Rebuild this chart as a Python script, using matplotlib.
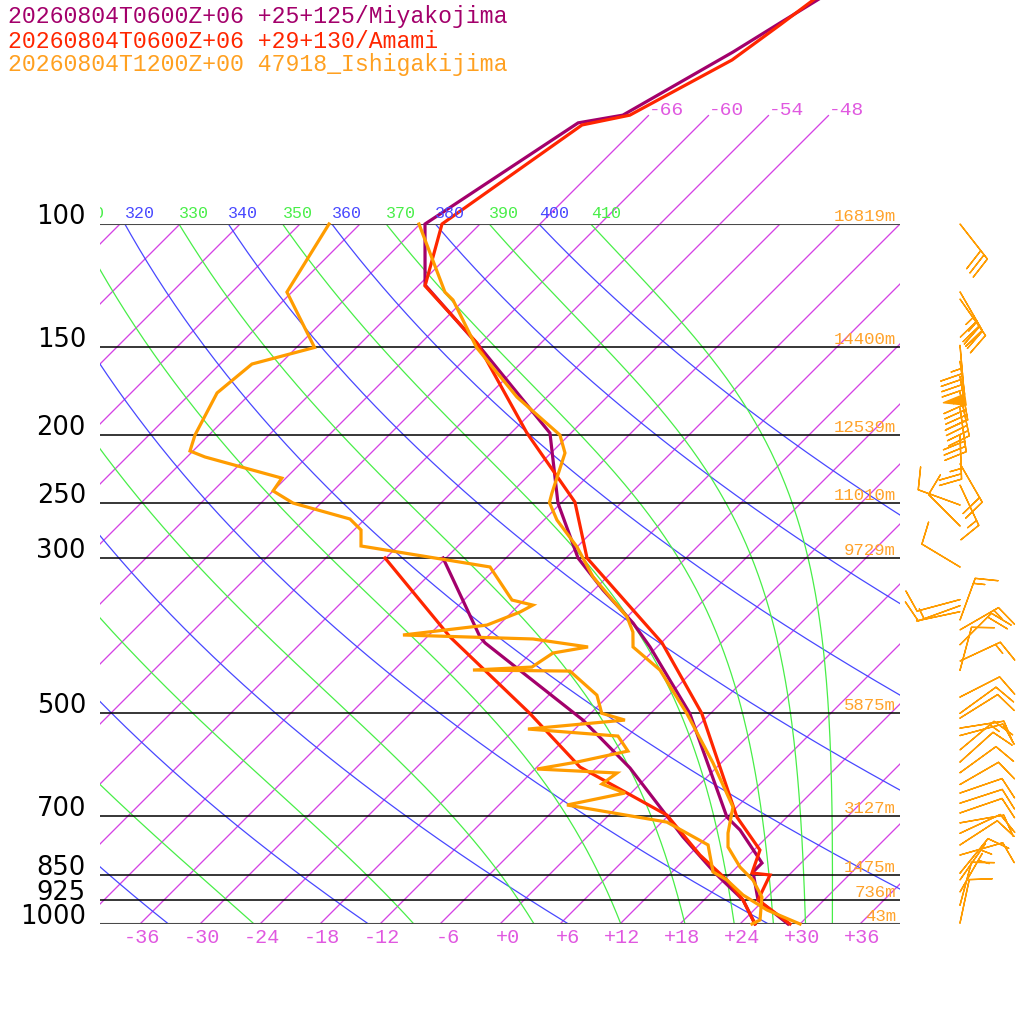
import numpy as np
import matplotlib
matplotlib.use('Agg')
import matplotlib.pyplot as plt
import matplotlib.transforms as mtransforms

# soundings: pressure (hPa), temperature / dewpoint (C)
miya_p = [44.8, 51.6, 56.8, 69.9, 71.7, 100, 122.2, 149.9, 198.9, 250.4, 300,
          333.3, 371.5, 402.0, 500, 703.5, 734.0, 818.2, 842.7, 924.0, 1000]
miya_t = [-59.4, -62.1, -63.9, -68.6, -72.3, -77.5, -71.4, -59.7, -44.1, -36.3, -28.8,
          -23.1, -16.8, -12.7, -2.1, 12.0, 14.6, 20.1, 20.1, 23.4, 28.8]
miya_td_p = [300, 389.0, 396.7, 511.3, 598.6, 680.6, 751.1, 845.6, 924.0, 1000]
miya_td = [-42.3, -30.7, -29.6, -12.1, -2.6, 4.3, 9.6, 16.4, 21.9, 25.5]

amami_p = [44.8, 51.9, 58.3, 69.9, 72.2, 100, 122.6, 147.9, 198.9, 249.6, 300,
           396.7, 500, 703.5, 784.1, 845.6, 851.1, 924.0, 1000]
amami_t = [-60.4, -61.9, -63.2, -67.9, -71.7, -75.8, -71.3, -60.4, -46.4, -34.7, -27.9,
           -11.9, -0.9, 13.0, 18.6, 20.1, 22.1, 23.4, 29.0]
amami_td_p = [300, 389.0, 500, 596.7, 698.9, 797.0, 865.4, 924.0, 1000]
amami_td = [-48.1, -33.7, -18.1, -7.7, 5.8, 13.1, 18.3, 21.9, 25.5]

ishi_p = [100, 125.1, 128.4, 150.1, 176.7, 200.2, 212.4, 242.3, 250, 264.8, 289.3,
          319.3, 364.2, 382.8, 402.0, 433.7, 500, 588.8, 680.6, 741.3, 776.2, 829.1,
          865.4, 915.3, 986.9, 1000]
ishi_t = [-78.1, -68.7, -67.1, -60.0, -51.0, -42.9, -40.6, -37.9, -37.2, -34.7, -30.0,
          -25.4, -18.0, -15.9, -14.4, -9.4, -2.4, 5.2, 11.6, 13.7, 15.1, 18.3,
          20.9, 23.5, 25.6, 25.2]
ishi_td_p = [100, 125.1, 150.1, 158.5, 174.3, 200.2, 211.0, 215.2, 230.7, 240.6, 250.4,
             263.9, 273.6, 288.4, 309.0, 344.5, 350.3, 358.4, 374.1, 386.5, 391.6, 402.0,
             410.1, 429.5, 433.7, 435.2, 471.0, 500, 511.3, 526.6, 538.9, 566.2, 587.0,
             600.6, 608.5, 631.0, 650.0, 676.1, 715.2, 771.0, 842.7, 865.4, 909.0,
             955.0, 1000]
ishi_td = [-87.1, -84.5, -76.2, -80.8, -81.4, -79.4, -78.3, -76.2, -66.4, -66.0, -62.8,
           -55.5, -53.3, -51.7, -36.7, -31.2, -28.6, -29.2, -31.2, -38.6, -25.2, -18.9,
           -21.8, -22.5, -28.1, -18.3, -13.2, -10.9, -7.9, -16.7, -7.0, -4.5, -8.5,
           -11.8, -3.4, -3.8, -0.6, -5.2, 6.5, 12.9, 16.1, 18.3, 21.4,
           25.3, 30.0]

# Ishigakijima winds: pressure, direction (deg), speed (kt)
wind_p = [100, 125, 128, 149, 157, 165, 174, 183, 200, 220, 236, 252, 270, 309,
          344, 351, 358, 368, 380, 399, 421, 434, 474, 500, 508, 525, 538, 564,
          587, 608, 632, 650, 672, 694, 717, 742, 771, 797, 846, 865, 900, 940, 997]
wind_dir = [142, 150, 145, 175, 172, 170, 168, 172, 178, 150, 155, 290, 315, 301,
            255, 250, 258, 20, 60, 45, 65, 15, 63, 54, 58, 81, 75, 50,
            48, 54, 60, 71, 72, 71, 80, 65, 57, 74, 39, 35, 30, 15, 12]
wind_spd = [30, 35, 35, 45, 50, 45, 40, 30, 25, 20, 15, 10, 10, 10,
            10, 10, 5, 15, 15, 20, 15, 10, 10, 10, 10, 10, 10, 15,
            10, 10, 10, 10, 10, 10, 10, 10, 10, 10, 10, 5, 5, 10, 10]

plevels = [100, 150, 200, 250, 300, 500, 700, 850, 925, 1000]
heights = ['16819m', '14400m', '12539m', '11010m', '9729m', '5875m', '3127m',
           '1475m', '736m', '43m']
iso_ticks = list(range(-36, 37, 6))
iso_top = [-66, -60, -54, -48]
dry_theta = list(range(200, 401, 20))
moist_thetae = list(range(230, 411, 20))

titles = ['20260804T0600Z+06 +25+125/Miyakojima',
          '20260804T0600Z+06 +29+130/Amami',
          '20260804T1200Z+00 47918_Ishigakijima']

PURPLE = '#a3006b'
RED = '#ff2600'
ORANGE = '#ff9c00'
ISO = '#d444e4'
ISO_TXT = '#e058e0'
BLUE = '#4848ff'
GREEN = '#48ee48'
MONO = 'Liberation Mono'


def theta_e(tk, p):
    # Bolton (1980), saturated air
    tc = tk - 273.15
    e = 6.112 * np.exp(17.67 * tc / (tc + 243.5))
    r = 622.0 * e / np.maximum(p - e, 1e-3)
    return tk * (1000.0 / p) ** (0.2854 * (1 - 0.00028 * r)) * \
        np.exp((3.376 / tk - 0.00254) * r * (1 + 0.00081 * r))


def moist_adiabat(the, p):
    lo = np.full_like(p, 150.0)
    hi = np.full_like(p, 320.0)
    with np.errstate(over='ignore', invalid='ignore'):
        for _ in range(60):
            mid = 0.5 * (lo + hi)
            big = theta_e(mid, p) > the
            hi = np.where(big, mid, hi)
            lo = np.where(big, lo, mid)
    return 0.5 * (lo + hi) - 273.15


fig = plt.figure(figsize=(10.24, 10.24), dpi=100)
fig.patch.set_facecolor('white')
ax = fig.add_axes([100 / 1024, 100 / 1024, 800 / 1024, 700 / 1024])
ax.set_yscale('log')
ax.set_xlim(-40, 40)
ax.set_ylim(1000, 100)
ax.axis('off')
ax.set_autoscale_on(False)

# 45 degree skew in display space, anchored at the 1000 hPa line
skew = ax.transData + mtransforms.Affine2D().translate(0, -100).skew_deg(45, 0).translate(0, 100)

pp = np.logspace(3, 2, 200)

# isotherms
for t in range(-120, 60, 6):
    ax.plot([t, t], [1000, 100], color=ISO, lw=0.95, transform=skew)
for t in iso_top:
    ax.plot([t, t], [100, 70], color=ISO, lw=0.95, transform=skew, clip_on=False)
    fig.text(t, 70, '%+d' % t, color=ISO_TXT, fontsize=14, family=MONO,
             ha='left', va='baseline',
             transform=mtransforms.offset_copy(skew, fig, x=0, y=1, units='dots'))
for t in iso_ticks:
    fig.text(t, 1000, '%+d' % t, color=ISO_TXT, fontsize=14.5, family=MONO,
             ha='right', va='top',
             transform=mtransforms.offset_copy(skew, fig, x=20, y=-4, units='dots'))

label_clip = mtransforms.Bbox([[100, 0], [1024, 1024]])


def top_label(tt, th, color):
    # label at the 100 hPa end; skip the ones that fall fully off the left edge
    if tt[-1] + 70 < -43:
        return
    fig.text(tt[-1], 100, str(th), color=color, fontsize=12, family=MONO,
             ha='left', va='bottom', clip_on=True, clip_box=label_clip,
             transform=mtransforms.offset_copy(skew, fig, x=0, y=3, units='dots'))


# dry adiabats
for th in dry_theta:
    tt = th * (pp / 1000.0) ** 0.286 - 273.15
    ax.plot(tt, pp, color=BLUE, lw=0.9, transform=skew)
    top_label(tt, th, BLUE)

# pseudo adiabats
for th in moist_thetae:
    tt = moist_adiabat(th, pp)
    ax.plot(tt, pp, color=GREEN, lw=0.9, transform=skew)
    top_label(tt, th, GREEN)

# pressure lines, labels and heights
for p, h in zip(plevels, heights):
    edge = p in (100, 1000)
    ax.hlines(p, -40, 40, color='#4a4a4a' if edge else 'black', lw=1.5 if edge else 1.1)
    ax.text(-41.4, p, str(p), ha='right', va='baseline', fontsize=18.5,
            family='DejaVu Sans', color='black', clip_on=False)
    ax.text(39.6, p, h, ha='right', va='bottom', fontsize=12.5, family=MONO,
            color='#ffa22a', clip_on=False)

# soundings
for (p, t, c) in [(miya_p, miya_t, PURPLE), (miya_td_p, miya_td, PURPLE),
                  (amami_p, amami_t, RED), (amami_td_p, amami_td, RED),
                  (ishi_p, ishi_t, ORANGE), (ishi_td_p, ishi_td, ORANGE)]:
    ax.plot(t, p, color=c, lw=2.3, transform=skew, clip_on=False,
            solid_joinstyle='miter')

# wind barbs at the right
wd = np.radians(wind_dir)
u = -np.array(wind_spd) * np.sin(wd)
v = -np.array(wind_spd) * np.cos(wd)
bt = mtransforms.blended_transform_factory(ax.transAxes, ax.transData)
ax.barbs(np.full(len(wind_p), 1.075), wind_p, u, v, transform=bt, clip_on=False,
         color=ORANGE, length=8, linewidth=1.0, sizes=dict(height=0.5, spacing=0.12))

# titles
for i, (s, c) in enumerate(zip(titles, [PURPLE, RED, '#ffa020'])):
    fig.text(8 / 1024, 1 - (17 + 24 * i) / 1024, s, color=c, fontsize=16.7,
             family=MONO, ha='left', va='center')

fig.savefig('out.png', dpi=100, facecolor='white')
